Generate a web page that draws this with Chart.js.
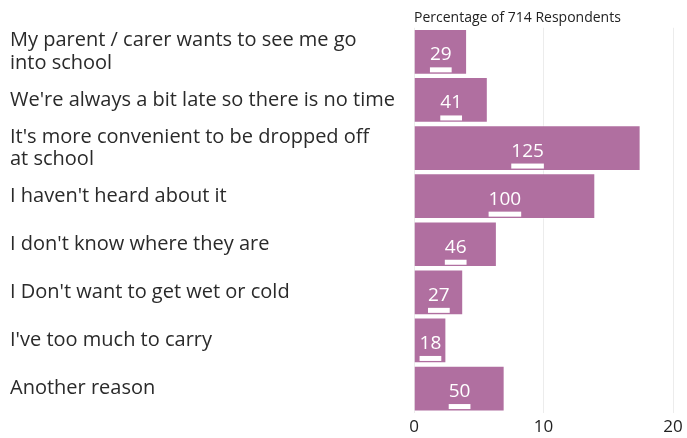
<!DOCTYPE html>
<html>
<head>
<meta charset="utf-8">
<script src="https://cdn.jsdelivr.net/npm/chart.js@4"></script>
<style>
    html, body { margin: 0; padding: 0; background: #fff; }
    #wrap { width: 687px; height: 438px; position: relative; }
</style>
</head>
<body>
<div id="wrap"><canvas id="reasonsChart"></canvas></div>
<script>
// Reasons given, one entry per bar (multi-line labels as arrays)
const reasons = [
    ["My parent / carer wants to see me go", "into school"],
    "We're always a bit late so there is no time",
    ["It's more convenient to be dropped off", "at school"],
    "I haven't heard about it",
    "I don't know where they are",
    "I Don't want to get wet or cold",
    "I've too much to carry",
    "Another reason"
];
// Number of respondents per reason (shown inside each bar)
const respondentCounts = [29, 41, 125, 100, 46, 27, 18, 50];
// Percentage of 714 respondents (bar length)
const percentOfRespondents = [4.1, 5.7, 17.5, 14.0, 6.4, 3.8, 2.5, 7.0];
const xTicks = [0, 10, 20];

const FONT = "'Open Sans', 'DejaVu Sans', sans-serif";
const barColor = "#b06fa0";

// Draws the count with a white underline in the middle of each bar
const countLabels = {
    id: "countLabels",
    afterDatasetsDraw(chart) {
        const ctx = chart.ctx;
        const meta = chart.getDatasetMeta(0);
        ctx.save();
        ctx.font = "19px " + FONT;
        ctx.fillStyle = "#fff";
        ctx.textAlign = "center";
        ctx.textBaseline = "alphabetic";
        meta.data.forEach((bar, i) => {
            const text = String(respondentCounts[i]);
            const cx = (bar.base + bar.x) / 2;
            const w = ctx.measureText(text).width;
            ctx.fillText(text, cx, bar.y + 8.5);
            ctx.fillRect(cx - w / 2, bar.y + 15.5, w, 5);
        });
        ctx.restore();
    }
};

new Chart(document.getElementById("reasonsChart"), {
    type: "bar",
    data: {
        labels: reasons,
        datasets: [{
            data: percentOfRespondents,
            backgroundColor: barColor,
            borderColor: "rgba(255,255,255,0.45)",
            borderWidth: 1,
            barPercentage: 0.95,
            categoryPercentage: 1.0
        }]
    },
    options: {
        indexAxis: "y",
        responsive: true,
        maintainAspectRatio: false,
        animation: false,
        layout: { padding: { left: 10, right: 14, top: 10, bottom: -3 } },
        plugins: {
            legend: { display: false },
            tooltip: { enabled: false }
        },
        scales: {
            x: {
                min: 0,
                max: 20,
                afterBuildTicks(scale) {
                    scale.ticks = xTicks.map(v => ({ value: v }));
                },
                grid: { color: "#ececec", drawTicks: false },
                border: { display: false },
                ticks: {
                    color: "#222",
                    font: { family: FONT, size: 17 },
                    padding: 4
                }
            },
            xTop: {
                axis: "x",
                position: "top",
                min: 0,
                max: 20,
                grid: { display: false, drawTicks: false },
                border: { display: false },
                ticks: { display: false },
                title: {
                    display: true,
                    text: "Percentage of 714 Respondents",
                    align: "start",
                    color: "#222",
                    font: { family: FONT, size: 14 },
                    padding: { top: 0, bottom: 1 }
                }
            },
            y: {
                afterFit(scale) { scale.width = 404; },
                grid: { display: false },
                border: { display: false },
                ticks: {
                    crossAlign: "far",
                    color: "#2a2a2a",
                    font: { family: FONT, size: 20, lineHeight: 1.12 }
                }
            }
        }
    },
    plugins: [countLabels]
});
</script>
</body>
</html>
